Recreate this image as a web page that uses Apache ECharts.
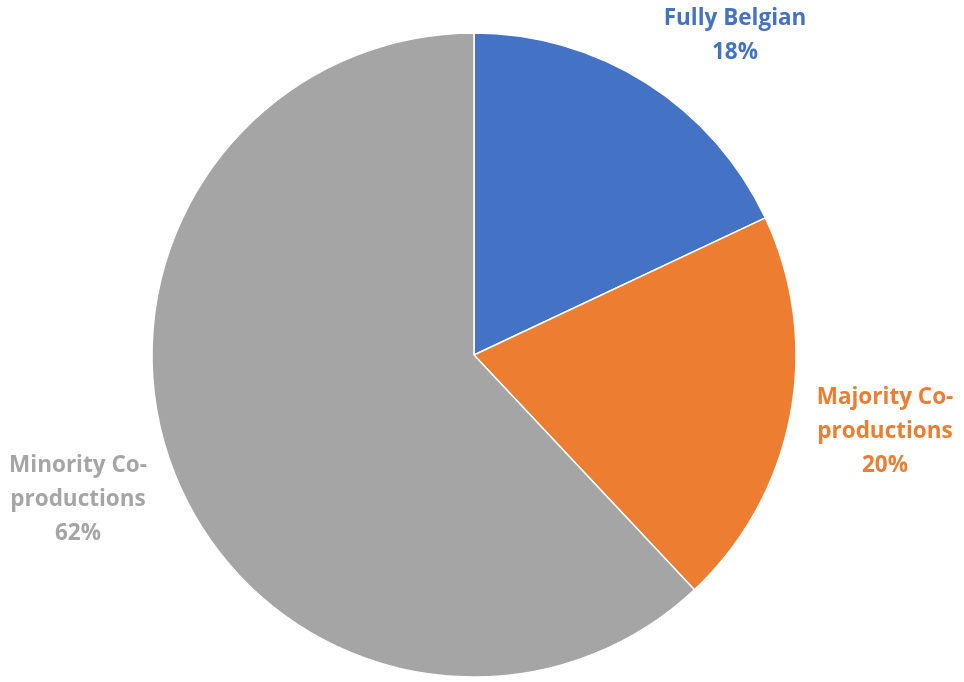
<!DOCTYPE html>
<html>
<head>
<meta charset="utf-8">
<script src="https://cdn.jsdelivr.net/npm/echarts@6/dist/echarts.min.js"></script>
<style>
  html, body { margin: 0; padding: 0; background: #ffffff; }
  #chart { width: 964px; height: 682px; }
</style>
</head>
<body>
<div id="chart"></div>
<script>
// Share of productions by type
const categories = ['Fully Belgian', 'Majority Co-\nproductions', 'Minority Co-\nproductions'];
const shares = [18, 20, 62];
const colors = ['#4472C4', '#ED7D31', '#A5A5A5'];

// Label anchor points (centre of each text block)
const labelAnchors = [[735, 36], [885, 432], [78, 500]];

const chart = echarts.init(document.getElementById('chart'), null, { renderer: 'canvas' });

chart.setOption({
  animation: false,
  series: [{
    type: 'pie',
    center: [474, 355],
    radius: 322,
    startAngle: 90,
    clockwise: true,
    avoidLabelOverlap: false,
    data: categories.map((name, i) => ({
      name: name,
      value: shares[i],
      itemStyle: { color: colors[i] },
      label: { color: colors[i] }
    })),
    itemStyle: { borderColor: '#ffffff', borderWidth: 1.5 },
    label: {
      show: true,
      position: 'outside',
      formatter: '{b}\n{c}%',
      fontFamily: 'Open Sans',
      fontWeight: 'bold',
      fontSize: 22.5,
      lineHeight: 34,
      align: 'center',
      verticalAlign: 'middle'
    },
    labelLine: { show: false },
    labelLayout: function (params) {
      const p = labelAnchors[params.dataIndex];
      return { x: p[0], y: p[1], align: 'center', verticalAlign: 'middle' };
    }
  }]
});
</script>
</body>
</html>
